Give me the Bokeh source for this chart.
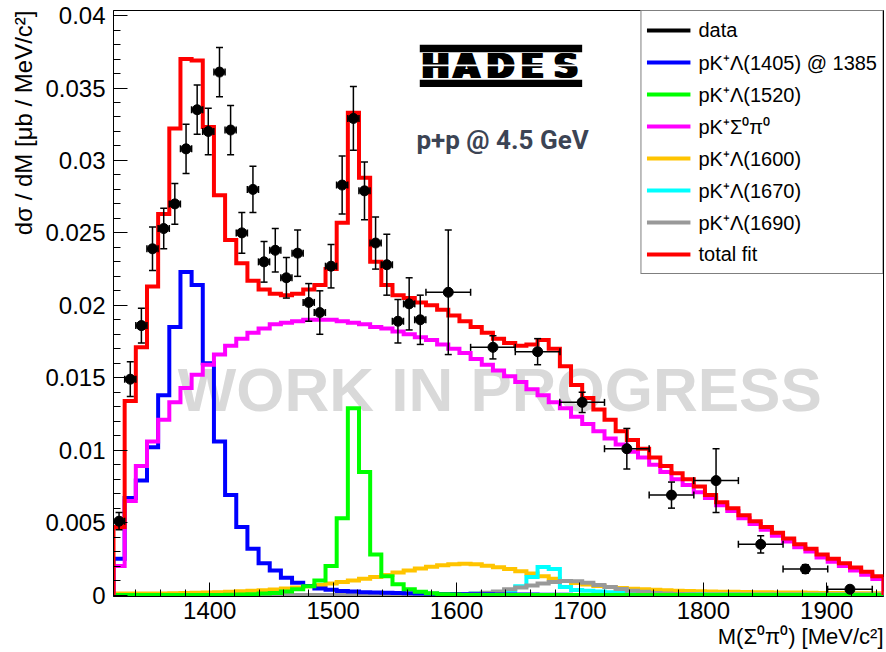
import numpy as np
from bokeh.plotting import figure
from bokeh.models import (FixedTicker, Legend, LegendItem, Label, BoxAnnotation, Title,
                          Whisker, ColumnDataSource, TeeHead, Range1d, CustomJSTickFormatter)
from bokeh.embed import file_html
from bokeh.resources import INLINE

# ---------------- data ----------------
X_LO, X_HI = 1322.0, 1946.0
N_BINS = 69

total_fit = [0.0047, 0.0134, 0.0171, 0.0213, 0.0263, 0.0322, 0.0370, 0.0369, 0.0323, 0.0276,
             0.0245, 0.0229, 0.0217, 0.0211, 0.0208, 0.0207, 0.0208, 0.0211, 0.0214, 0.0225,
             0.0257, 0.0333, 0.0288, 0.0230, 0.0214, 0.0207, 0.0205, 0.0202, 0.0200, 0.0197,
             0.0193, 0.0189, 0.0185, 0.0181, 0.0177, 0.0174, 0.0172, 0.0173, 0.0176, 0.0170,
             0.0158, 0.0145, 0.0136, 0.0128, 0.0121, 0.0113, 0.0107, 0.0101, 0.0095, 0.0089,
             0.0084, 0.0080, 0.0075, 0.0069, 0.0064, 0.0060, 0.0055, 0.0051, 0.0047, 0.0043,
             0.0039, 0.0035, 0.0032, 0.0028, 0.0025, 0.0022, 0.0019, 0.0016, 0.0013]

sigma_pi = [0.0020, 0.0065, 0.0089, 0.0106, 0.0121, 0.0133, 0.0143, 0.0152, 0.0159, 0.0166,
            0.0172, 0.0177, 0.0181, 0.0184, 0.0187, 0.0188, 0.0189, 0.0190, 0.0190, 0.0190,
            0.0189, 0.0188, 0.0187, 0.0185, 0.0184, 0.0182, 0.0180, 0.0178, 0.0176, 0.0173,
            0.0170, 0.0167, 0.0163, 0.0159, 0.0155, 0.0151, 0.0147, 0.0142, 0.0138, 0.0133,
            0.0129, 0.0123, 0.0118, 0.0113, 0.0108, 0.0104, 0.0099, 0.0095, 0.0090, 0.0085,
            0.0080, 0.0076, 0.0071, 0.0067, 0.0062, 0.0058, 0.0053, 0.0049, 0.0045, 0.0041,
            0.0037, 0.0033, 0.0030, 0.0026, 0.0023, 0.0020, 0.0017, 0.0014, 0.0011]

lam1405 = [0.0025, 0.0067, 0.0079, 0.0102, 0.0138, 0.0185, 0.0223, 0.0214, 0.0160, 0.0106,
           0.0069, 0.0047, 0.0032, 0.0022, 0.0017, 0.0012, 0.00085, 0.00062, 0.00046, 0.00037,
           0.00028, 0.00024, 0.0002, 0.00018, 0.00016, 0.00014, 0.00012, 0.0001, 0.00009, 0.00008,
           0.00007, 0.00006, 0.00005, 0.00005, 0.00004, 0.00004, 0.00003, 0.00003, 0.00002, 0.00002,
           0.00002, 0.00001, 0.00001, 0.00001, 0.00001, 0.0, 0.0, 0.0, 0.0, 0.0,
           0.0, 0.0, 0.0, 0.0, 0.0, 0.0, 0.0, 0.0, 0.0, 0.0,
           0.0, 0.0, 0.0, 0.0, 0.0, 0.0, 0.0, 0.0, 0.0]

lam1520 = [0.0, 0.0, 0.0, 0.0, 0.0, 0.0, 0.0, 0.0, 0.0, 0.0,
           0.00002, 0.00004, 0.00006, 0.0001, 0.00014, 0.00025, 0.0004, 0.0006, 0.0010, 0.0020,
           0.0053, 0.0129, 0.0085, 0.0028, 0.0013, 0.00074, 0.0004, 0.00023, 0.00012, 0.00006,
           0.00003, 0.0, 0.0, 0.0, 0.0, 0.0, 0.0, 0.0, 0.0, 0.0,
           0.0, 0.0, 0.0, 0.0, 0.0, 0.0, 0.0, 0.0, 0.0, 0.0,
           0.0, 0.0, 0.0, 0.0, 0.0, 0.0, 0.0, 0.0, 0.0, 0.0,
           0.0, 0.0, 0.0, 0.0, 0.0, 0.0, 0.0, 0.0, 0.0]

lam1600 = [0.0001, 0.0001, 0.0001, 0.0001, 0.0001, 0.00012, 0.00014, 0.00016, 0.00018, 0.0002,
           0.00023, 0.00026, 0.0003, 0.00034, 0.00039, 0.00045, 0.00052, 0.0006, 0.0007, 0.0008,
           0.0009, 0.0010, 0.00112, 0.00125, 0.00138, 0.00155, 0.0017, 0.00183, 0.00196, 0.00206,
           0.00213, 0.00216, 0.00212, 0.00203, 0.00192, 0.0018, 0.00165, 0.00148, 0.0013, 0.00112,
           0.00097, 0.00084, 0.00073, 0.00063, 0.00055, 0.00049, 0.00044, 0.0004, 0.00036, 0.00033,
           0.0003, 0.00028, 0.00026, 0.00024, 0.00023, 0.00022, 0.00021, 0.0002, 0.00019, 0.00018,
           0.00018, 0.00017, 0.00016, 0.00015, 0.00015, 0.00014, 0.00013, 0.00013, 0.00012]

lam1670 = [0.0, 0.0, 0.0, 0.0, 0.0, 0.0, 0.0, 0.0, 0.0, 0.0,
           0.0, 0.0, 0.0, 0.0, 0.0, 0.0, 0.0, 0.0, 0.0, 0.0,
           0.0, 0.0, 0.0, 0.0, 0.0, 0.0, 0.0, 0.0, 0.0, 0.0,
           0.00003, 0.00005, 0.0001, 0.00015, 0.0002, 0.0003, 0.0006, 0.00125, 0.00194, 0.0018,
           0.00055, 0.00035, 0.0003, 0.00025, 0.0002, 0.00018, 0.00015, 0.00012, 0.0001, 0.00008,
           0.00007, 0.00006, 0.00005, 0.00004, 0.00004, 0.00003, 0.00002, 0.00002, 0.00002, 0.00002,
           0.00002, 0.00002, 0.00002, 0.00002, 0.00002, 0.00002, 0.00002, 0.00002, 0.00002]

lam1690 = [0.0, 0.0, 0.0, 0.0, 0.0, 0.0, 0.0, 0.0, 0.0, 0.0,
           0.0, 0.0, 0.0, 0.0, 0.0, 0.0, 0.0, 0.0, 0.0, 0.0,
           0.0, 0.0, 0.0, 0.0, 0.0, 0.0, 0.0, 0.0, 0.0, 0.0,
           0.0, 0.00005, 0.0001, 0.00016, 0.00025, 0.0004, 0.00052, 0.00066, 0.0008, 0.0009,
           0.00097, 0.00095, 0.00085, 0.0007, 0.00055, 0.00042, 0.0003, 0.00022, 0.00015, 0.0001,
           0.00007, 0.00005, 0.00003, 0.00003, 0.00003, 0.00003, 0.00003, 0.00003, 0.00003, 0.00003,
           0.00003, 0.00003, 0.00003, 0.00003, 0.00003, 0.00003, 0.00003, 0.00003, 0.00003]

data_x = [1326.5, 1335.6, 1344.6, 1353.6, 1362.7, 1371.7, 1380.8, 1389.8, 1398.8, 1407.9,
          1416.9, 1426.0, 1435.0, 1444.0, 1453.1, 1462.1, 1471.2, 1480.2, 1489.2, 1498.3,
          1507.3, 1516.4, 1525.4, 1534.4, 1543.5, 1552.5, 1561.6, 1570.6,
          1593.3, 1629.5, 1665.7, 1701.8, 1738.0, 1774.2, 1810.3, 1846.5, 1882.7, 1918.8]
data_xerr = [4.52] * 28 + [18.1] * 10
data_y = [0.0051, 0.0149, 0.0186, 0.0239, 0.0253, 0.0270, 0.0308, 0.0335, 0.0320, 0.0361,
          0.0321, 0.0250, 0.0280, 0.0230, 0.0238, 0.0219, 0.0236, 0.0202, 0.0195, 0.0227,
          0.0283, 0.0329, 0.0279, 0.0243, 0.0228, 0.0189, 0.0201, 0.0190,
          0.0209, 0.0171, 0.0168, 0.0133, 0.0101, 0.0069, 0.0079, 0.0035, 0.0018, 0.0004]
data_yerr = [0.0006, 0.0012, 0.0012, 0.0015, 0.0014, 0.0014, 0.0017, 0.0017, 0.0016, 0.0017,
             0.0017, 0.0014, 0.0016, 0.0014, 0.0015, 0.0014, 0.0016, 0.0013, 0.0015, 0.0015,
             0.0020, 0.0022, 0.0020, 0.0018, 0.0021, 0.0015, 0.0018, 0.0017,
             0.0043, 0.0008, 0.0009, 0.0007, 0.0014, 0.0009, 0.0022, 0.0006, 0.0003, 0.0002]

legend_labels = ["data", "pK\u207a\u039b(1405) @ 1385", "pK\u207a\u039b(1520)",
                 "pK\u207a\u03a3\u2070\u03c0\u2070", "pK\u207a\u039b(1600)",
                 "pK\u207a\u039b(1670)", "pK\u207a\u039b(1690)", "total fit"]
x_title = "M(\u03a3\u2070\u03c0\u2070) [MeV/c\u00b2]"
y_title = "d\u03c3 / dM [\u03bcb / MeV/c\u00b2]"

# ---------------- figure ----------------
FONT = "Liberation Sans"
p = figure(width=886, height=652, output_backend="svg", toolbar_location=None,
           x_range=Range1d(X_LO, X_HI), y_range=Range1d(-0.0001, 0.04035),
           min_border_left=113, min_border_right=3, min_border_top=10, min_border_bottom=56,
           background_fill_color="white", border_fill_color="white")
p.xgrid.grid_line_color = None
p.ygrid.grid_line_color = None
p.outline_line_color = "black"
p.outline_line_width = 1

p.xaxis.ticker = FixedTicker(ticks=[1400, 1500, 1600, 1700, 1800, 1900],
                             minor_ticks=list(np.arange(1340, 1946, 20)))
p.yaxis.ticker = FixedTicker(ticks=[0, 0.005, 0.01, 0.015, 0.02, 0.025, 0.03, 0.035, 0.04],
                             minor_ticks=list(np.round(np.arange(0, 0.0405, 0.001), 4)))
p.yaxis.formatter = CustomJSTickFormatter(
    code="return tick.toFixed(3).replace(/0+$/,'').replace(/\\.$/,'');")
for ax in (p.xaxis, p.yaxis):
    ax.major_tick_in = 14
    ax.major_tick_out = 0
    ax.minor_tick_in = 7
    ax.minor_tick_out = 0
    ax.axis_line_color = "black"
    ax.major_tick_line_color = "black"
    ax.minor_tick_line_color = "black"
    ax.major_label_text_font = FONT
    ax.major_label_text_font_size = "24px"
    ax.major_label_text_color = "black"
p.yaxis.major_label_standoff = 8
p.xaxis.major_label_standoff = 5

# axis titles as side-panel titles, aligned to the far ends like ROOT
p.add_layout(Title(text=x_title, align="right", text_font=FONT, text_font_size="22px",
                   text_font_style="normal", text_color="black", standoff=0), "below")
p.add_layout(Title(text=y_title, align="right", text_font=FONT, text_font_size="24px",
                   text_font_style="normal", text_color="black", standoff=12), "left")

# watermark
p.add_layout(Label(x=1635, y=0.0142, text="WORK IN PROGRESS", text_align="center",
                   text_baseline="middle", text_font=FONT, text_font_style="bold",
                   text_font_size="62px", text_color="#d9d9d9", level="underlay"))

edges = np.linspace(X_LO, X_HI, N_BINS + 1)


def outline(vals):
    xs = np.repeat(edges, 2)
    ys = np.concatenate([[0.0], np.repeat(np.asarray(vals, dtype=float), 2), [0.0]])
    return xs, ys


LW = 4
r_data = p.line(x=data_x[:1], y=data_y[:1], line_color="black", line_width=LW)
series = [(lam1600, "#ffc400"), (lam1670, "#00ffff"), (lam1690, "#999999"),
          (lam1405, "#0000ff"), (lam1520, "#00ff00"), (sigma_pi, "#ff00ff"), (total_fit, "#ff0000")]
rends = {}
for vals, col in series:
    xs, ys = outline(vals)
    rends[col] = p.line(xs, ys, line_color=col, line_width=LW, line_join="miter")

# data points
xa = np.array(data_x); ya = np.array(data_y)
xe = np.array(data_xerr); ye = np.array(data_yerr)
src = ColumnDataSource(dict(x=xa, y=ya, lo=ya - ye, hi=ya + ye, xl=xa - xe, xh=xa + xe))
wy = Whisker(base="x", lower="lo", upper="hi", source=src, line_color="black", line_width=1.5,
             upper_head=TeeHead(size=7, line_color="black", line_width=1.5),
             lower_head=TeeHead(size=7, line_color="black", line_width=1.5), level="annotation")
wx = Whisker(base="y", lower="xl", upper="xh", dimension="width", source=src,
             line_color="black", line_width=1.5,
             upper_head=TeeHead(size=7, line_color="black", line_width=1.5),
             lower_head=TeeHead(size=7, line_color="black", line_width=1.5), level="annotation")
p.add_layout(wy)
p.add_layout(wx)
p.scatter("x", "y", source=src, size=10, marker="circle", fill_color="black", line_color="black")

# legend
order = [r_data, rends["#0000ff"], rends["#00ff00"], rends["#ff00ff"], rends["#ffc400"],
         rends["#00ffff"], rends["#999999"], rends["#ff0000"]]
legend = Legend(items=[LegendItem(label=l, renderers=[r]) for l, r in zip(legend_labels, order)],
                location="top_right", margin=0, padding=5, spacing=4,
                glyph_width=44, glyph_height=28, label_height=28, label_standoff=8,
                label_text_font=FONT, label_text_font_size="20px", label_text_color="black",
                border_line_color="black", border_line_width=1.5, background_fill_alpha=1.0)
p.add_layout(legend)

# HADES logo
p.add_layout(BoxAnnotation(left=1570.2, right=1701.8, top=0.03799, bottom=0.03746,
                           fill_color="black", fill_alpha=1.0, line_alpha=0))
p.add_layout(BoxAnnotation(left=1570.2, right=1701.8, top=0.03557, bottom=0.03507,
                           fill_color="black", fill_alpha=1.0, line_alpha=0))
for ch, cx in zip("HADES", [1582.9, 1608.0, 1635.5, 1661.3, 1688.8]):
    for dx in (-2, -1, 0, 1, 2):
        p.add_layout(Label(x=cx, y=0.03648, x_offset=dx, text=ch, text_align="center",
                           text_baseline="middle", text_font="DejaVu Sans",
                           text_font_style="bold", text_font_size="33px", text_color="black"))
p.add_layout(BoxAnnotation(left=1570.2, right=1701.8, top=0.03662, bottom=0.03650,
                           fill_color="white", fill_alpha=1.0, line_alpha=0))

p.add_layout(Label(x=1567.5, y=0.03142, text="p+p @ 4.5 GeV", text_align="left",
                   text_baseline="alphabetic", text_font="Roboto", text_font_style="bold",
                   text_font_size="26px", text_color="#3c4454"))

open("out.html", "w").write(file_html(p, INLINE))
